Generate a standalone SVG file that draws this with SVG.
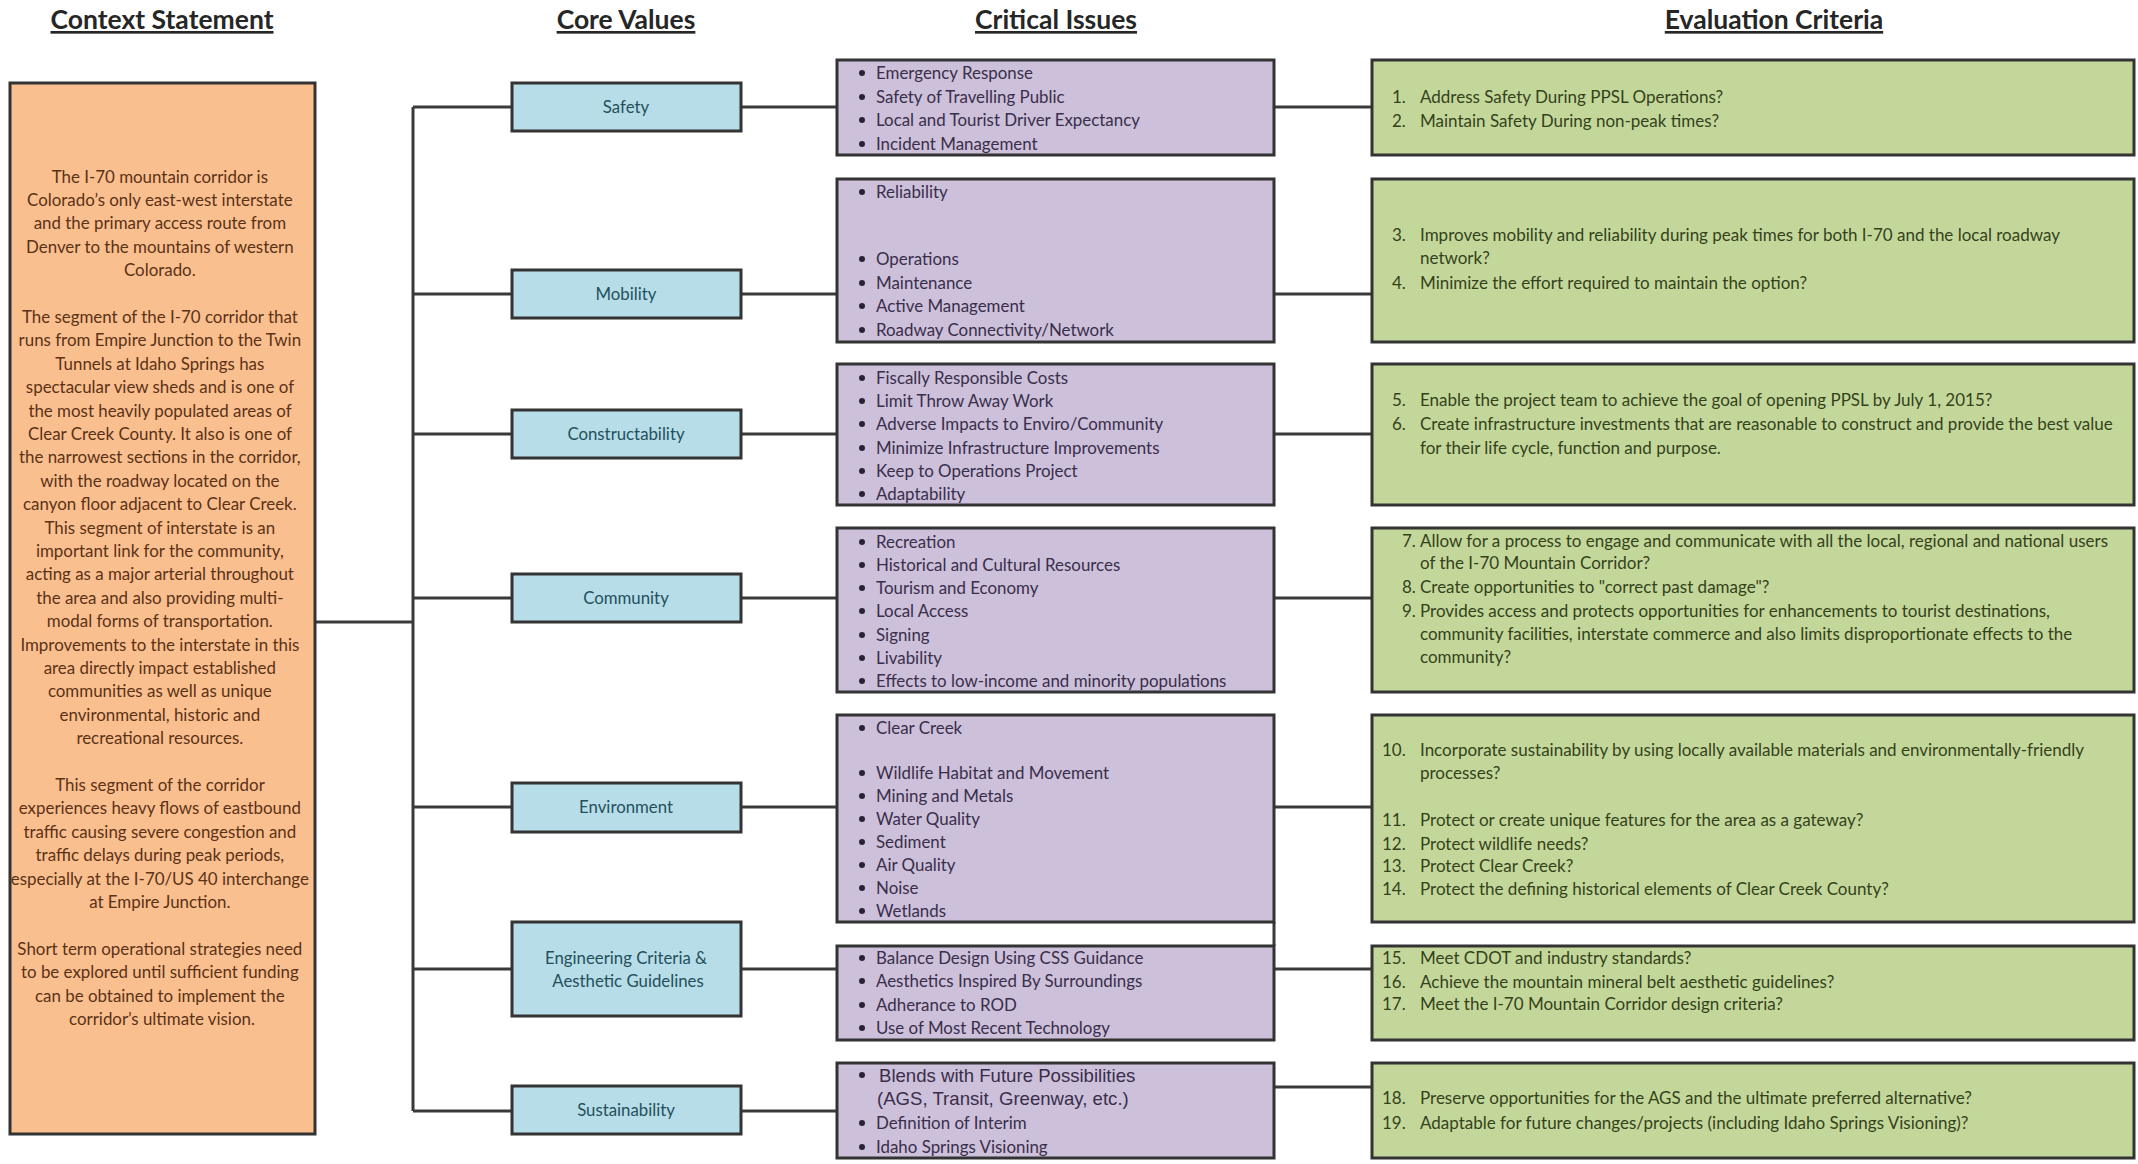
<svg xmlns="http://www.w3.org/2000/svg" width="2138" height="1164" viewBox="0 0 2138 1164">
<style>
text{font-family:Lato,"Noto Sans","Liberation Sans",sans-serif}
.hdr{font-size:26.5px;font-weight:bold;fill:#262626;text-anchor:middle;text-decoration:underline}
.box{stroke:#333;stroke-width:3}
.ctx{fill:#FABF8F}
.cv{fill:#B7DDE8}
.ci{fill:#CCC0DA}
.ec{fill:#C4D79B}
.ctxt{font-size:16.9px;fill:#5a3216;text-anchor:middle}
.cvt{font-size:16.8px;fill:#24505c;text-anchor:middle}
.cit{font-size:16.9px;fill:#3a2e4a}
.ect{font-size:17px;fill:#34421a}
.ari{font-family:"Liberation Sans",Arial,sans-serif;font-size:18.6px}
.dot{fill:#2a2233}
.conn{stroke:#3a3a3a;stroke-width:3;fill:none}
</style>
<rect width="2138" height="1164" fill="#ffffff"/>

<g id="headers">
<text class="hdr" x="162" y="29">Context Statement</text>
<text class="hdr" x="626" y="29">Core Values</text>
<text class="hdr" x="1056" y="29">Critical Issues</text>
<text class="hdr" x="1774" y="29">Evaluation Criteria</text>
</g>

<g id="connectors">
<path class="conn" d="M315,622 H413 M413,107 V1111"/>
<path class="conn" d="M413,107 H512 M413,294 H512 M413,434 H512 M413,598 H512 M413,807 H512 M413,969 H512 M413,1111 H512"/>
<path class="conn" d="M741,107 H837 M741,294 H837 M741,434 H837 M741,598 H837 M741,807 H837 M741,969 H837 M741,1111 H837"/>
<path class="conn" d="M1274,107 H1372 M1274,294 H1372 M1274,434 H1372 M1274,598 H1372 M1274,807 H1372 M1274,969 H1372 M1274,1087 H1372"/>
<path class="conn" d="M1274,922 V946"/>
</g>

<g id="context">
<rect class="box ctx" x="10" y="83" width="305" height="1051"/>
<text class="ctxt">
<tspan x="162" y="182.5">The I-70 mountain corridor is</tspan>
<tspan x="162" y="205.9">Colorado’s only east-west interstate</tspan>
<tspan x="162" y="229.3">and the primary access route from</tspan>
<tspan x="162" y="252.7">Denver to the mountains of western</tspan>
<tspan x="162" y="276.1">Colorado.</tspan>
<tspan x="162" y="322.9">The segment of the I-70 corridor that</tspan>
<tspan x="162" y="346.3">runs from Empire Junction to the Twin</tspan>
<tspan x="162" y="369.7">Tunnels at Idaho Springs has</tspan>
<tspan x="162" y="393.1">spectacular view sheds and is one of</tspan>
<tspan x="162" y="416.5">the most heavily populated areas of</tspan>
<tspan x="162" y="439.9">Clear Creek County.  It also is one of</tspan>
<tspan x="162" y="463.3">the narrowest sections in the corridor,</tspan>
<tspan x="162" y="486.7">with the roadway located on the</tspan>
<tspan x="162" y="510.1">canyon floor adjacent to Clear Creek.</tspan>
<tspan x="162" y="533.5">This segment of interstate is an</tspan>
<tspan x="162" y="556.9">important link for the community,</tspan>
<tspan x="162" y="580.3">acting as a major arterial throughout</tspan>
<tspan x="162" y="603.7">the area and also providing multi-</tspan>
<tspan x="162" y="627.1">modal forms of transportation.</tspan>
<tspan x="162" y="650.5">Improvements to the interstate in this</tspan>
<tspan x="162" y="673.9">area directly impact established</tspan>
<tspan x="162" y="697.3">communities as well as unique</tspan>
<tspan x="162" y="720.7">environmental, historic and</tspan>
<tspan x="162" y="744.1">recreational resources.</tspan>
<tspan x="162" y="790.9">This segment of the corridor</tspan>
<tspan x="162" y="814.3">experiences heavy flows of eastbound</tspan>
<tspan x="162" y="837.7">traffic causing severe congestion and</tspan>
<tspan x="162" y="861.1">traffic delays during peak periods,</tspan>
<tspan x="162" y="884.5">especially at the I-70/US 40 interchange</tspan>
<tspan x="162" y="907.9">at Empire Junction.</tspan>
<tspan x="162" y="954.7">Short term operational strategies need</tspan>
<tspan x="162" y="978.1">to be explored until sufficient funding</tspan>
<tspan x="162" y="1001.5">can be obtained to implement the</tspan>
<tspan x="162" y="1024.9">corridor’s ultimate vision.</tspan>
</text>
</g>

<g id="cv-safety"><rect class="box cv" x="512" y="83" width="229" height="48"/><text class="cvt" x="626" y="113">Safety</text></g>
<g id="cv-mobility"><rect class="box cv" x="512" y="270" width="229" height="48"/><text class="cvt" x="626" y="300">Mobility</text></g>
<g id="cv-constructability"><rect class="box cv" x="512" y="410" width="229" height="48"/><text class="cvt" x="626" y="440">Constructability</text></g>
<g id="cv-community"><rect class="box cv" x="512" y="574" width="229" height="48"/><text class="cvt" x="626" y="604">Community</text></g>
<g id="cv-environment"><rect class="box cv" x="512" y="783" width="229" height="49"/><text class="cvt" x="626" y="813">Environment</text></g>
<g id="cv-engineering"><rect class="box cv" x="512" y="922" width="229" height="94"/><text class="cvt" x="626" y="964">Engineering Criteria &amp;</text><text class="cvt" x="628" y="987">Aesthetic Guidelines</text></g>
<g id="cv-sustainability"><rect class="box cv" x="512" y="1086" width="229" height="48"/><text class="cvt" x="626" y="1116">Sustainability</text></g>

<g id="ci-safety">
<rect class="box ci" x="837" y="60" width="437" height="95"/>
<g class="dot"><circle cx="862" cy="73" r="3"/><circle cx="862" cy="97" r="3"/><circle cx="862" cy="120" r="3"/><circle cx="862" cy="144" r="3"/></g>
<text class="cit"><tspan x="876" y="78.5">Emergency Response</tspan><tspan x="876" y="102.5">Safety of Travelling Public</tspan><tspan x="876" y="125.5">Local and Tourist Driver Expectancy</tspan><tspan x="876" y="149.5">Incident Management</tspan></text>
</g>
<g id="ci-mobility">
<rect class="box ci" x="837" y="179" width="437" height="163"/>
<g class="dot"><circle cx="862" cy="192" r="3"/><circle cx="862" cy="259" r="3"/><circle cx="862" cy="283" r="3"/><circle cx="862" cy="306" r="3"/><circle cx="862" cy="330" r="3"/></g>
<text class="cit"><tspan x="876" y="197.5">Reliability</tspan><tspan x="876" y="264.5">Operations</tspan><tspan x="876" y="288.5">Maintenance</tspan><tspan x="876" y="311.5">Active Management</tspan><tspan x="876" y="335.5">Roadway Connectivity/Network</tspan></text>
</g>
<g id="ci-constructability">
<rect class="box ci" x="837" y="364" width="437" height="141"/>
<g class="dot"><circle cx="862" cy="378" r="3"/><circle cx="862" cy="401" r="3"/><circle cx="862" cy="424" r="3"/><circle cx="862" cy="448" r="3"/><circle cx="862" cy="471" r="3"/><circle cx="862" cy="494" r="3"/></g>
<text class="cit"><tspan x="876" y="383.5">Fiscally Responsible Costs</tspan><tspan x="876" y="406.5">Limit Throw Away Work</tspan><tspan x="876" y="429.5">Adverse Impacts to Enviro/Community</tspan><tspan x="876" y="453.5">Minimize Infrastructure Improvements</tspan><tspan x="876" y="476.5">Keep to Operations Project</tspan><tspan x="876" y="499.5">Adaptability</tspan></text>
</g>
<g id="ci-community">
<rect class="box ci" x="837" y="528" width="437" height="164"/>
<g class="dot"><circle cx="862" cy="542" r="3"/><circle cx="862" cy="565" r="3"/><circle cx="862" cy="588" r="3"/><circle cx="862" cy="611" r="3"/><circle cx="862" cy="635" r="3"/><circle cx="862" cy="658" r="3"/><circle cx="862" cy="681" r="3"/></g>
<text class="cit"><tspan x="876" y="547.5">Recreation</tspan><tspan x="876" y="570.5">Historical and Cultural Resources</tspan><tspan x="876" y="593.5">Tourism and Economy</tspan><tspan x="876" y="616.5">Local Access</tspan><tspan x="876" y="640.5">Signing</tspan><tspan x="876" y="663.5">Livability</tspan><tspan x="876" y="686.5">Effects to low-income and minority populations</tspan></text>
</g>
<g id="ci-environment">
<rect class="box ci" x="837" y="715" width="437" height="207"/>
<g class="dot"><circle cx="862" cy="728" r="3"/><circle cx="862" cy="773" r="3"/><circle cx="862" cy="796" r="3"/><circle cx="862" cy="819" r="3"/><circle cx="862" cy="842" r="3"/><circle cx="862" cy="865" r="3"/><circle cx="862" cy="888" r="3"/><circle cx="862" cy="911" r="3"/></g>
<text class="cit"><tspan x="876" y="733.5">Clear Creek</tspan><tspan x="876" y="778.5">Wildlife Habitat and Movement</tspan><tspan x="876" y="801.5">Mining and Metals</tspan><tspan x="876" y="824.5">Water Quality</tspan><tspan x="876" y="847.5">Sediment</tspan><tspan x="876" y="870.5">Air Quality</tspan><tspan x="876" y="893.5">Noise</tspan><tspan x="876" y="916.5">Wetlands</tspan></text>
</g>
<g id="ci-engineering">
<rect class="box ci" x="837" y="946" width="437" height="94"/>
<g class="dot"><circle cx="862" cy="958" r="3"/><circle cx="862" cy="981" r="3"/><circle cx="862" cy="1005" r="3"/><circle cx="862" cy="1028" r="3"/></g>
<text class="cit"><tspan x="876" y="963.5">Balance Design Using CSS Guidance</tspan><tspan x="876" y="986.5">Aesthetics Inspired By Surroundings</tspan><tspan x="876" y="1010.5">Adherance to ROD</tspan><tspan x="876" y="1033.5">Use of Most Recent Technology</tspan></text>
</g>
<g id="ci-sustainability">
<rect class="box ci" x="837" y="1063" width="437" height="95"/>
<g class="dot"><circle cx="862" cy="1075" r="3"/><circle cx="862" cy="1123" r="3"/><circle cx="862" cy="1147" r="3"/></g>
<text class="cit ari"><tspan x="879" y="1081.5">Blends with Future Possibilities</tspan><tspan x="877" y="1104.5">(AGS, Transit, Greenway, etc.)</tspan></text>
<text class="cit"><tspan x="876" y="1128.5">Definition of Interim</tspan><tspan x="876" y="1152.5">Idaho Springs Visioning</tspan></text>
</g>

<g id="ec-safety">
<rect class="box ec" x="1372" y="60" width="762" height="95"/>
<text class="ect"><tspan x="1392" y="102.5">1.</tspan><tspan x="1420" y="102.5">Address Safety During PPSL Operations?</tspan><tspan x="1392" y="126.5">2.</tspan><tspan x="1420" y="126.5">Maintain Safety During non-peak times?</tspan></text>
</g>
<g id="ec-mobility">
<rect class="box ec" x="1372" y="179" width="762" height="163"/>
<text class="ect"><tspan x="1392" y="240.5">3.</tspan><tspan x="1420" y="240.5">Improves mobility and reliability during peak times for both I-70 and the local roadway</tspan><tspan x="1420" y="263.5">network?</tspan><tspan x="1392" y="288.5">4.</tspan><tspan x="1420" y="288.5">Minimize the effort required to maintain the option?</tspan></text>
</g>
<g id="ec-constructability">
<rect class="box ec" x="1372" y="364" width="762" height="141"/>
<text class="ect"><tspan x="1392" y="405.5">5.</tspan><tspan x="1420" y="405.5">Enable the project team to achieve the goal of opening PPSL  by July 1, 2015?</tspan><tspan x="1392" y="429.5">6.</tspan><tspan x="1420" y="429.5">Create infrastructure investments that are reasonable to construct and provide the best value</tspan><tspan x="1420" y="453.5">for their life cycle, function and purpose.</tspan></text>
</g>
<g id="ec-community">
<rect class="box ec" x="1372" y="528" width="762" height="164"/>
<text class="ect"><tspan x="1402" y="546.5">7.</tspan><tspan x="1420" y="546.5">Allow for a process to engage and communicate with all the local, regional and national users</tspan><tspan x="1420" y="568.5">of the I-70 Mountain Corridor?</tspan><tspan x="1402" y="592.5">8.</tspan><tspan x="1420" y="592.5">Create opportunities to "correct past damage"?</tspan><tspan x="1402" y="616.5">9.</tspan><tspan x="1420" y="616.5">Provides access and protects opportunities for enhancements to tourist destinations,</tspan><tspan x="1420" y="639.5">community facilities, interstate commerce and also limits disproportionate effects to the</tspan><tspan x="1420" y="662.5">community?</tspan></text>
</g>
<g id="ec-environment">
<rect class="box ec" x="1372" y="715" width="762" height="207"/>
<text class="ect"><tspan x="1382" y="755.5">10.</tspan><tspan x="1420" y="755.5">Incorporate sustainability by using locally available materials and environmentally-friendly</tspan><tspan x="1420" y="778.5">processes?</tspan><tspan x="1382" y="825.5">11.</tspan><tspan x="1420" y="825.5">Protect or create unique features for the area  as a gateway?</tspan><tspan x="1382" y="849.5">12.</tspan><tspan x="1420" y="849.5">Protect wildlife needs?</tspan><tspan x="1382" y="871.5">13.</tspan><tspan x="1420" y="871.5">Protect Clear Creek?</tspan><tspan x="1382" y="894.5">14.</tspan><tspan x="1420" y="894.5">Protect the defining historical elements of Clear Creek County?</tspan></text>
</g>
<g id="ec-engineering">
<rect class="box ec" x="1372" y="946" width="762" height="94"/>
<text class="ect"><tspan x="1382" y="963.5">15.</tspan><tspan x="1420" y="963.5">Meet CDOT and industry standards?</tspan><tspan x="1382" y="987.5">16.</tspan><tspan x="1420" y="987.5">Achieve the mountain mineral belt aesthetic guidelines?</tspan><tspan x="1382" y="1009.5">17.</tspan><tspan x="1420" y="1009.5">Meet the I-70 Mountain Corridor design criteria?</tspan></text>
</g>
<g id="ec-sustainability">
<rect class="box ec" x="1372" y="1063" width="762" height="95"/>
<text class="ect"><tspan x="1382" y="1103.5">18.</tspan><tspan x="1420" y="1103.5">Preserve opportunities for the AGS and the ultimate preferred alternative?</tspan><tspan x="1382" y="1128.5">19.</tspan><tspan x="1420" y="1128.5">Adaptable for future changes/projects (including Idaho Springs Visioning)?</tspan></text>
</g>
</svg>
